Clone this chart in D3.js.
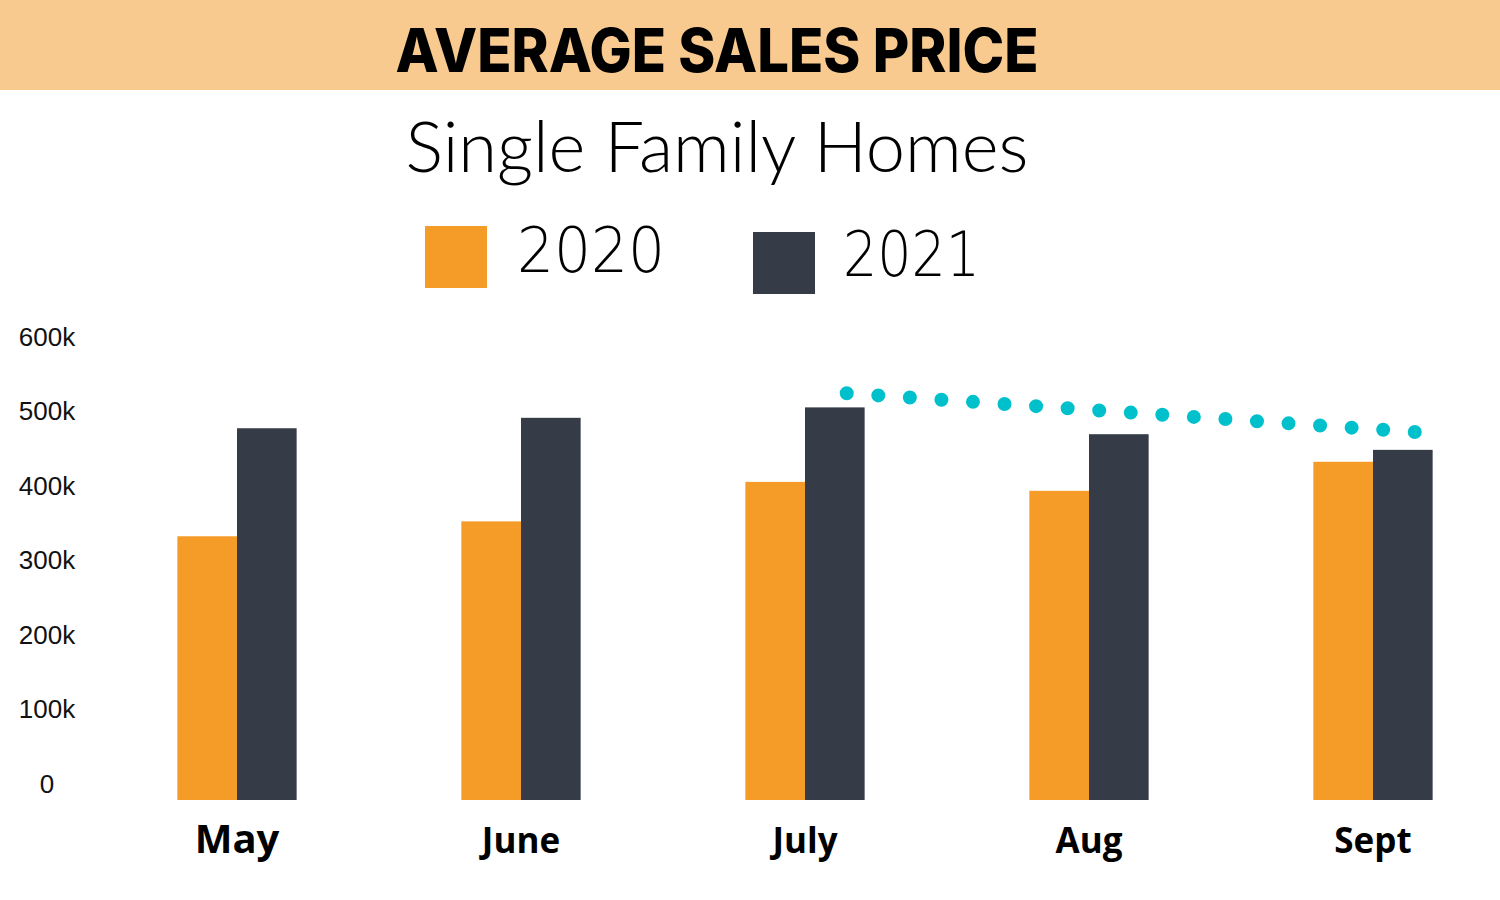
<!DOCTYPE html>
<html>
<head>
<meta charset="utf-8">
<script src="https://cdn.jsdelivr.net/npm/d3@7"></script>
<style>
  html, body { margin: 0; padding: 0; background: #fff; }
  svg { display: block; }
</style>
</head>
<body>
<svg id="chart"></svg>
<script>
// data
const months = ['May', 'June', 'July', 'Aug', 'Sept']
const years = ['2020', '2021']
const sales2020 = [354000, 374000, 427000, 415000, 454000]
const sales2021 = [499000, 513000, 527000, 491000, 470000]
const yTicks = [0, 100000, 200000, 300000, 400000, 500000, 600000]
// dotted trend drawn above the 2021 bars, July -> Sept
const trendMonths = ['July', 'Sept']
const trendValues = [546000, 494000]

const width = 1500
const height = 900
const colors = { '2020': '#f59b28', '2021': '#353c47' }

const svg = d3.select('#chart')
  .attr('width', width)
  .attr('height', height)

// header band
svg.append('rect')
  .attr('x', 0).attr('y', 0)
  .attr('width', width).attr('height', 90)
  .attr('fill', '#f9ca8f')

svg.append('text')
  .attr('x', 717).attr('y', 72)
  .attr('text-anchor', 'middle')
  .attr('font-family', 'Inter, "Noto Sans", sans-serif')
  .attr('font-weight', 800)
  .attr('font-size', 60)
  .attr('textLength', 643)
  .attr('lengthAdjust', 'spacingAndGlyphs')
  .attr('fill', '#000')
  .text('AVERAGE SALES PRICE')

svg.append('text')
  .attr('x', 717).attr('y', 172)
  .attr('text-anchor', 'middle')
  .attr('font-family', 'Lato, sans-serif')
  .attr('font-weight', 300)
  .attr('font-size', 70)
  .attr('textLength', 623)
  .attr('lengthAdjust', 'spacingAndGlyphs')
  .attr('fill', '#000')
  .text('Single Family Homes')

// legend
const legend = [
  { year: '2020', x: 425, y: 226, tx: 517, ty: 272, tw: 148 },
  { year: '2021', x: 753, y: 232, tx: 843, ty: 276, tw: 137 }
]
const lg = svg.append('g')
lg.selectAll('rect')
  .data(legend)
  .join('rect')
  .attr('x', d => d.x).attr('y', d => d.y)
  .attr('width', 62).attr('height', 62)
  .attr('fill', d => colors[d.year])
lg.selectAll('text')
  .data(legend)
  .join('text')
  .attr('x', d => d.tx).attr('y', d => d.ty)
  .attr('font-family', '"DejaVu Sans", sans-serif')
  .attr('font-weight', 200)
  .attr('font-size', 62)
  .attr('textLength', d => d.tw)
  .attr('lengthAdjust', 'spacingAndGlyphs')
  .attr('fill', '#000')
  .text(d => d.year)

// scales
const x = d3.scaleBand()
  .domain(months)
  .range([95, 1515])
  .paddingInner(0.58)
  .paddingOuter(0.29)

const x1 = d3.scaleBand()
  .domain(years)
  .range([0, x.bandwidth()])

const y = d3.scaleLinear()
  .domain([0, 600000])
  .range([800, 353])

// y axis (labels only, sitting a bit above their value)
const yAxis = svg.append('g')
  .attr('transform', 'translate(47, -16)')
  .call(d3.axisLeft(y)
    .tickValues(yTicks)
    .tickSize(0)
    .tickFormat(v => v === 0 ? '0' : (v / 1000) + 'k'))
yAxis.select('.domain').remove()
yAxis.selectAll('text')
  .attr('x', 0)
  .attr('text-anchor', 'middle')
  .attr('font-family', '"Liberation Sans", Arial, sans-serif')
  .attr('font-size', 26)
  .attr('fill', '#111')

// bars
const rows = months.map((m, i) => ({ month: m, values: [
  { year: '2020', value: sales2020[i] },
  { year: '2021', value: sales2021[i] }
] }))

const groups = svg.append('g')
  .selectAll('g')
  .data(rows)
  .join('g')
  .attr('transform', d => `translate(${x(d.month)}, 0)`)

groups.selectAll('rect')
  .data(d => d.values)
  .join('rect')
  .attr('x', d => x1(d.year))
  .attr('width', x1.bandwidth())
  .attr('y', d => y(d.value))
  .attr('height', d => y(0) - y(d.value))
  .attr('fill', d => colors[d.year])

// month labels
svg.append('g')
  .selectAll('text')
  .data(months)
  .join('text')
  .attr('x', d => x(d) + x.bandwidth() / 2)
  .attr('y', 853)
  .attr('text-anchor', 'middle')
  .attr('font-family', '"Open Sans", sans-serif')
  .attr('font-weight', 700)
  .attr('font-size', d => d === 'May' ? 40 : 35)
  .attr('fill', '#000')
  .text(d => d)

// dotted trend
const trendPts = trendMonths.map((m, i) => [
  x(m) + x1('2021') + x1.bandwidth() * 0.7,
  y(trendValues[i])
])
const trend = svg.append('path')
  .attr('d', d3.line()(trendPts))
  .attr('fill', 'none')
  .attr('stroke', '#00c1cb')
  .attr('stroke-width', 14)
  .attr('stroke-linecap', 'round')
const len = trend.node().getTotalLength()
const nDots = Math.round(len / 31) + 1
trend.attr('stroke-dasharray', `0 ${len / (nDots - 1)}`)
</script>
</body>
</html>
